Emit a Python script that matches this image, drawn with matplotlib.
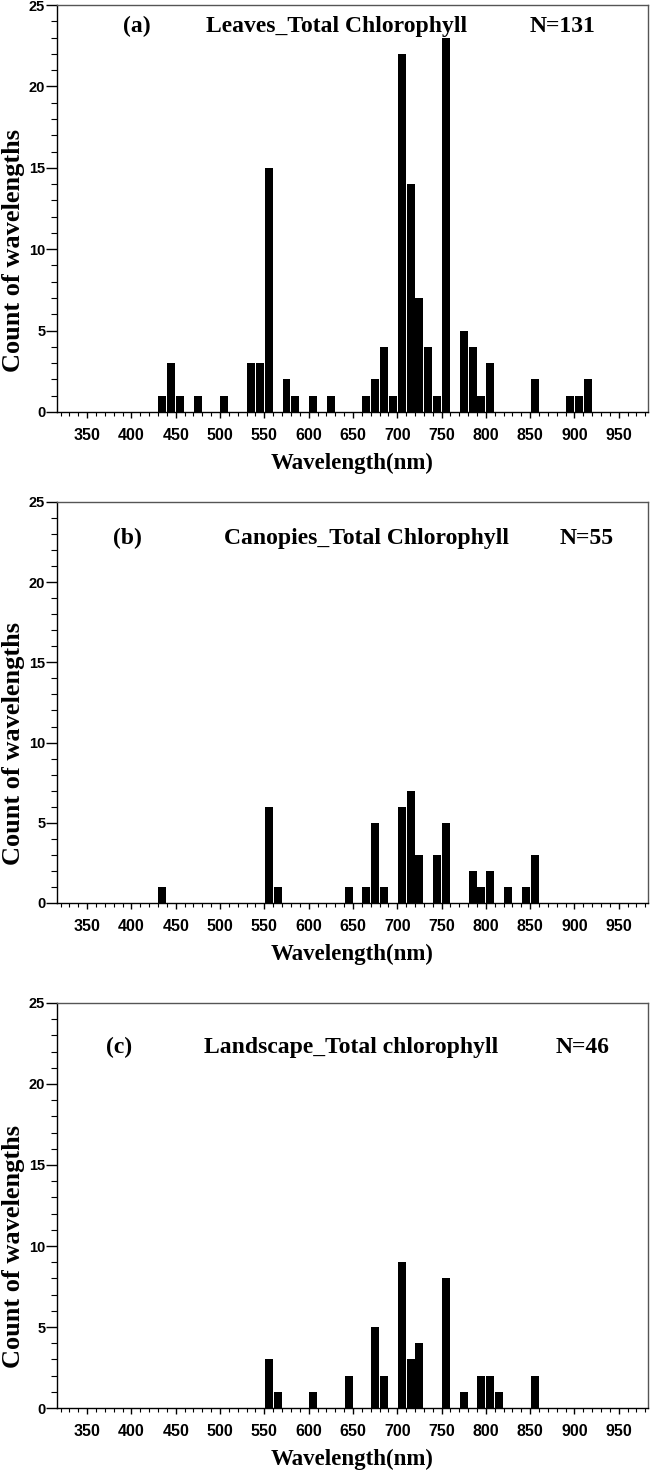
import matplotlib
matplotlib.use("Agg")
from matplotlib import pyplot as plt
from matplotlib.ticker import MultipleLocator

# bin start (nm) and count of wavelengths, 10 nm bins
leaves_bins = [430, 440, 450, 470, 500, 530, 540, 550, 570, 580, 600, 620,
               660, 670, 680, 690, 700, 710, 720, 730, 740, 750, 770, 780,
               790, 800, 850, 890, 900, 910]
leaves_counts = [1, 3, 1, 1, 1, 3, 3, 15, 2, 1, 1, 1,
                 1, 2, 4, 1, 22, 14, 7, 4, 1, 23, 5, 4,
                 1, 3, 2, 1, 1, 2]

canopy_bins = [430, 550, 560, 640, 660, 670, 680, 700, 710, 720, 740, 750,
               780, 790, 800, 820, 840, 850]
canopy_counts = [1, 6, 1, 1, 1, 5, 1, 6, 7, 3, 3, 5,
                 2, 1, 2, 1, 1, 3]

land_bins = [550, 560, 600, 640, 670, 680, 700, 710, 720, 750, 770, 790,
             800, 810, 850]
land_counts = [3, 1, 1, 2, 5, 2, 9, 3, 4, 8, 1, 2,
               2, 1, 2]

panels = [
    ("(a)", "Leaves_Total Chlorophyll", "N=131", leaves_bins, leaves_counts),
    ("(b)", "Canopies_Total Chlorophyll", "N=55", canopy_bins, canopy_counts),
    ("(c)", "Landscape_Total chlorophyll", "N=46", land_bins, land_counts),
]

# text placement per panel (x of tag, title, N in nm; baseline y in counts)
text_pos = [
    (406, 632, 886, 23.35),
    (396, 665, 914, 22.36),
    (386, 648, 909, 21.94),
]

# axes rectangles in figure fraction
rects = [
    [0.0876, 0.7203, 0.9078, 0.2763],
    [0.0876, 0.3870, 0.9078, 0.2722],
    [0.0876, 0.0441, 0.9078, 0.2750],
]

serif = "Liberation Serif"
sans = "Liberation Sans"

fig = plt.figure(figsize=(6.51, 14.73), dpi=100)

for (tag, title, ntxt, bins, counts), rect, tp in zip(panels, rects, text_pos):
    ax = fig.add_axes(rect)
    ax.bar([b + 0.5 for b in bins], counts, width=9.0, align="edge",
           color="black", edgecolor="none")
    ax.set_xlim(316, 983)
    ax.set_ylim(0, 25)
    ax.xaxis.set_minor_locator(MultipleLocator(10))
    ax.yaxis.set_major_locator(MultipleLocator(5))
    ax.yaxis.set_minor_locator(MultipleLocator(1))
    ax.set_xticks(range(350, 951, 50))
    ax.tick_params(axis="x", which="major", direction="out", length=4.5,
                   width=1.0, pad=7)
    ax.tick_params(axis="x", which="minor", direction="out", length=3,
                   width=0.8)
    ax.tick_params(axis="y", which="major", direction="out", length=8,
                   width=1.0, pad=0.5)
    ax.tick_params(axis="y", which="minor", direction="out", length=4.5,
                   width=0.8)
    for lab in ax.get_xticklabels():
        lab.set_fontfamily(sans)
        lab.set_fontweight("bold")
        lab.set_fontsize(11.5)
    for lab in ax.get_yticklabels():
        lab.set_fontfamily(sans)
        lab.set_fontweight("bold")
        lab.set_fontsize(10.5)
    for sp in ax.spines.values():
        sp.set_linewidth(1.0)
    ax.spines["top"].set_color("#555555")
    ax.spines["right"].set_color("#555555")

    ax.set_xlabel("Wavelength(nm)", family=serif, fontweight="bold",
                  fontsize=16.5, labelpad=7)
    ax.set_ylabel("Count of wavelengths", family=serif, fontweight="bold",
                  fontsize=19)
    ax.yaxis.set_label_coords(-0.054, 0.398)

    ax.text(tp[0], tp[3], tag, family=serif, fontweight="bold", fontsize=17,
            ha="center", va="baseline")
    ax.text(tp[1], tp[3], title, family=serif, fontweight="bold",
            fontsize=17, ha="center", va="baseline")
    ax.text(tp[2], tp[3], ntxt, family=serif, fontweight="bold", fontsize=17,
            ha="center", va="baseline")

fig.savefig("out.png", dpi=100)
